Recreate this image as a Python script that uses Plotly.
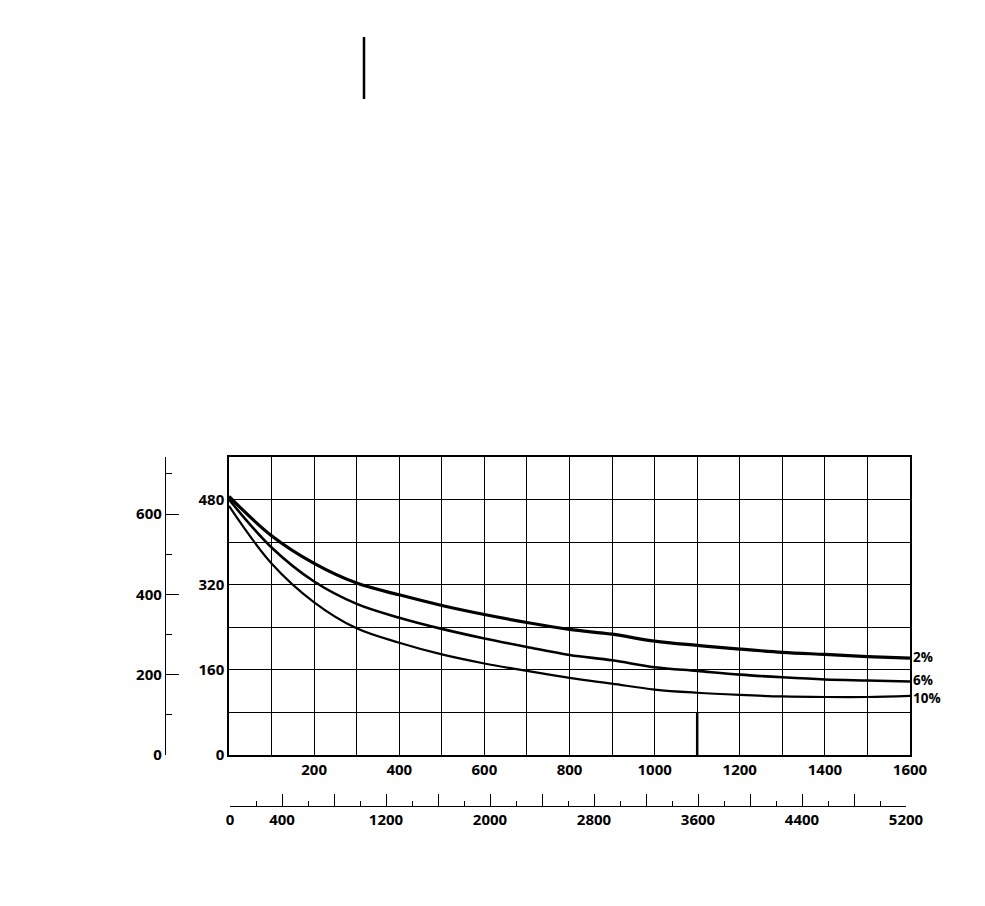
import plotly.graph_objects as go

# ---- data ----
x_vals = [0, 100, 200, 300, 400, 500, 600, 700, 800, 900, 1000, 1100, 1200, 1300, 1400, 1500, 1600]
curve_2 = [486, 412, 360, 323, 301, 281, 264, 249, 236, 227, 214, 206, 199, 193, 189, 185, 182]
curve_6 = [480, 390, 326, 284, 258, 237, 219, 203, 188, 178, 165, 158, 151, 146, 142, 140, 138]
curve_10 = [468, 360, 287, 238, 211, 189, 172, 158, 145, 134, 123, 117, 113, 110, 109, 109, 111]
series_names = ["2%", "6%", "10%"]
series_widths = [3.2, 2.6, 2.2]
label_shifts = [1, 2, -2]

main_x_ticks = [200, 400, 600, 800, 1000, 1200, 1400, 1600]
main_y_ticks = [0, 160, 320, 480]
left_ticks = [0, 200, 400, 600]
bottom_tickvals = [0, 400, 800, 1200, 1600, 2000, 2400, 2800, 3200, 3600, 4000, 4400, 4800, 5200]
bottom_ticktext = ["0", "400", "", "1200", "", "2000", "", "2800", "", "3600", "", "4400", "", "5200"]

FONT = dict(family="Open Sans", size=15, color="black", weight="bold")

OFF = 8  # page body margin
W, H = 985 - 2 * OFF, 906 - 2 * OFF
ml, mr, mt, mb = 92, 67, 449, 52
pw = W - ml - mr
ph = H - mt - mb

def px_x(p):
    return (p - OFF - ml) / pw

def px_y(p):
    return (H - mb - (p - OFF)) / ph

fig = go.Figure()
for name, ys, w, sh in zip(series_names, [curve_2, curve_6, curve_10], series_widths, label_shifts):
    fig.add_trace(go.Scatter(x=x_vals, y=ys, mode="lines", name=name,
                             line=dict(color="black", width=w, shape="spline", smoothing=1.0),
                             showlegend=False, hoverinfo="skip", cliponaxis=False))
    fig.add_annotation(x=x_vals[-1], y=ys[-1], text=name, showarrow=False,
                       xanchor="left", yanchor="middle", xshift=2, yshift=sh, borderpad=0,
                       font=dict(family="Open Sans", size=13.5, color="black", weight="bold"))

# dummy trace to host secondary axes
fig.add_trace(go.Scatter(x=[None], y=[None], xaxis="x2", yaxis="y2", showlegend=False))

fig.update_layout(
    width=W, height=H,
    margin=dict(l=ml, r=mr, t=mt, b=mb),
    plot_bgcolor="rgba(0,0,0,0)", paper_bgcolor="white",
    xaxis=dict(domain=[px_x(229), px_x(910)], range=[0, 1600], tickvals=main_x_ticks,
               ticks="", tickfont=FONT, showline=True, linecolor="black", linewidth=1.5,
               mirror=True, zeroline=False, showgrid=True, gridcolor="black", gridwidth=1.3,
               minor=dict(dtick=100, ticks="", showgrid=True, gridcolor="black", gridwidth=1.3),
               anchor="y"),
    yaxis=dict(domain=[px_y(755), px_y(457)], range=[0, 560], tickvals=main_y_ticks,
               ticks="", tickfont=FONT, showline=True, linecolor="black", linewidth=1.5,
               mirror=True, zeroline=False, showgrid=True, gridcolor="black", gridwidth=1.3,
               minor=dict(dtick=80, ticks="", showgrid=True, gridcolor="black", gridwidth=1.3),
               anchor="x"),
    yaxis2=dict(domain=[px_y(755), px_y(457)], range=[0, 742], anchor="free", position=px_x(165),
                tickvals=left_ticks, ticks="inside", ticklen=13, tickwidth=1.3, tickcolor="black",
                minor=dict(dtick=100, ticks="inside", ticklen=6, tickwidth=1.3, tickcolor="black"),
                showline=True, linecolor="black", linewidth=1.3, showgrid=False, zeroline=False,
                tickfont=FONT, side="left"),
    xaxis2=dict(domain=[px_x(230), px_x(906)], range=[0, 5200], anchor="free", position=px_y(806),
                tickvals=bottom_tickvals, ticktext=bottom_ticktext, ticks="inside", ticklen=12,
                tickwidth=1.3, tickcolor="black",
                minor=dict(dtick=200, ticks="inside", ticklen=5, tickwidth=1.3, tickcolor="black"),
                showline=True, linecolor="black", linewidth=1.3, showgrid=False, zeroline=False,
                tickfont=FONT, side="bottom"),
)

# decorative vertical stroke at top of page (scan artifact)
fig.add_shape(type="line", xref="paper", yref="paper", x0=px_x(364), x1=px_x(364),
              y0=px_y(37), y1=px_y(99), line=dict(color="black", width=2.5))
# heavier grid segment
fig.add_shape(type="line", xref="x", yref="y", x0=1100, x1=1100, y0=0, y1=80,
              line=dict(color="black", width=2.5))

fig.write_html("out.html")
